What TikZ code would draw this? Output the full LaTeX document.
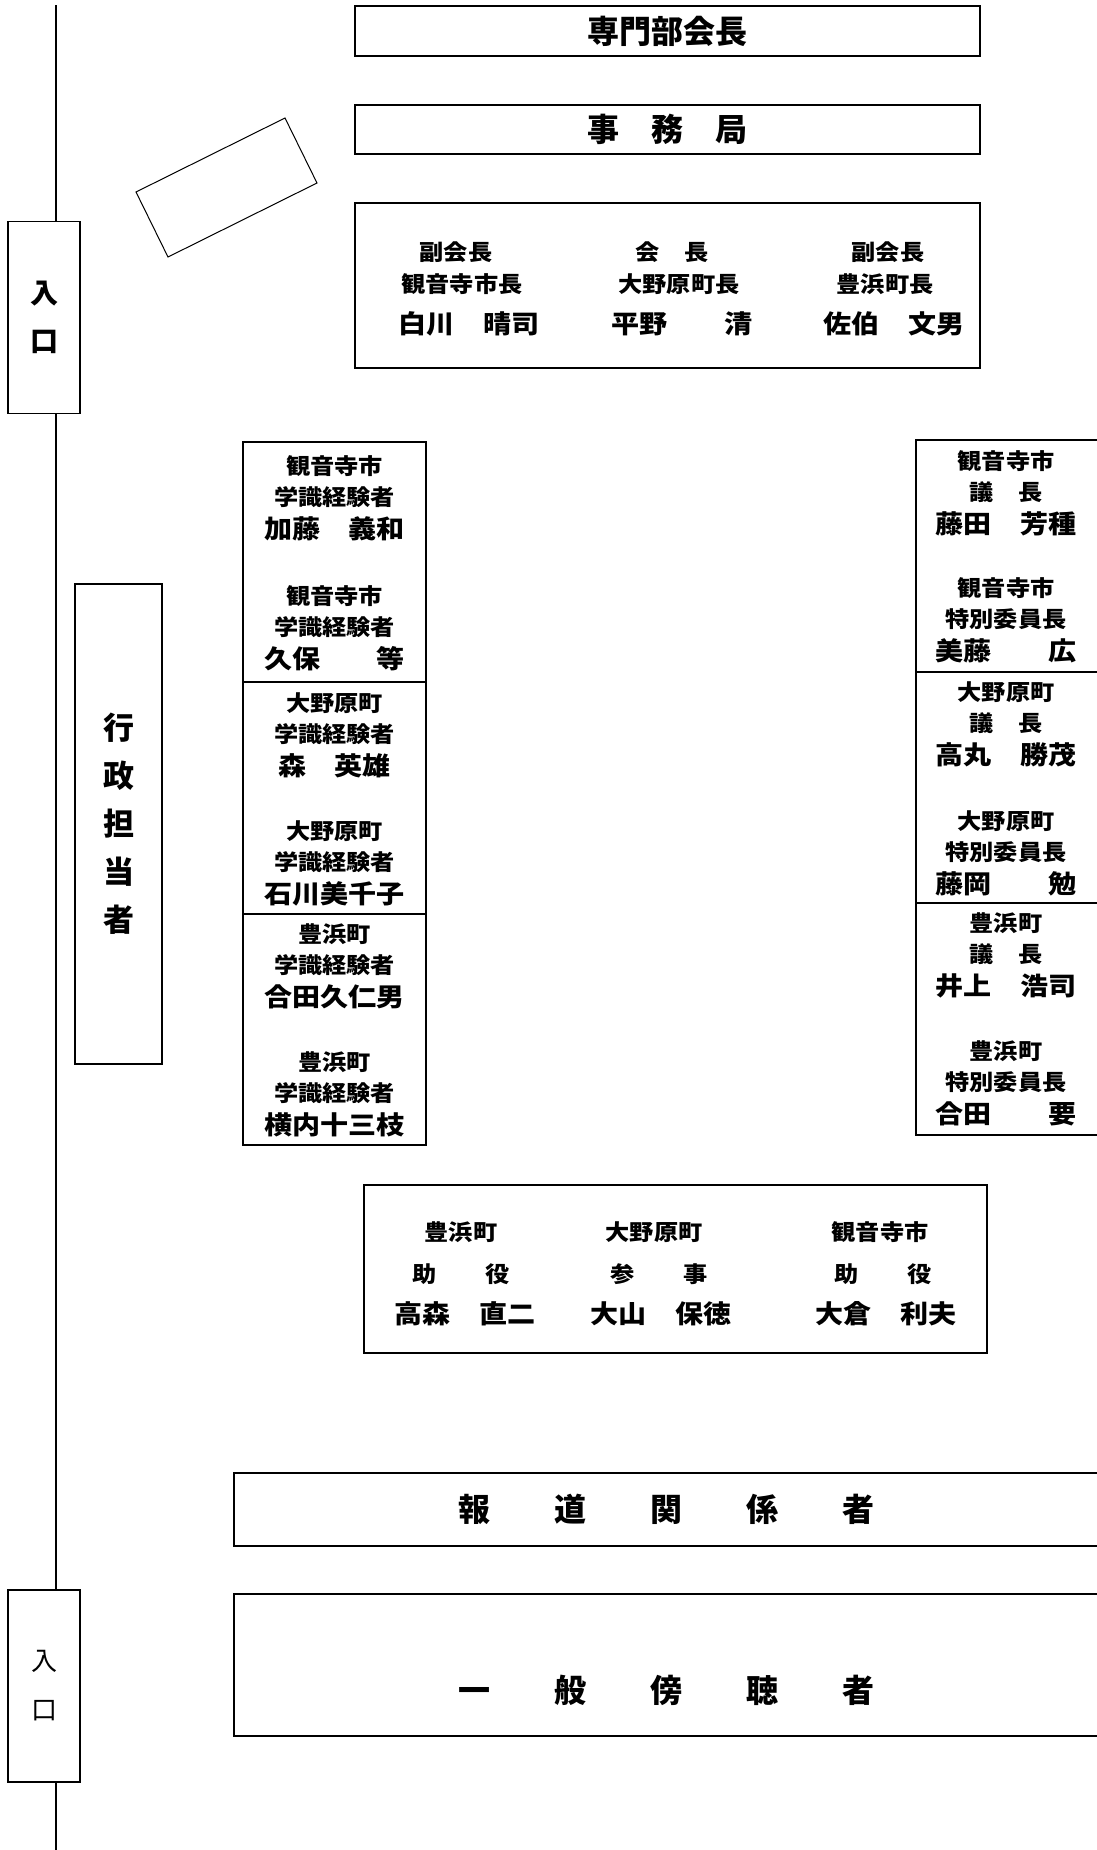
\documentclass[tikz,border=0pt]{standalone}
\usepackage{fontspec}
\newfontfamily\jpfont{Noto Sans CJK JP}
\newfontfamily\jpwide{Noto Sans CJK JP}[FakeStretch=1.1]
\usetikzlibrary{positioning}
\tikzset{
	seat/.style={line width=2pt},
	wall/.style={line width=1.3pt},
	lbl/.style={font=\jpwide\bfseries\fontsize{22}{22}\selectfont, inner sep=0pt, text height=18pt, text depth=3pt},
	nm/.style={font=\jpwide\bfseries\fontsize{25.5}{25.5}\selectfont, inner sep=0pt, text height=21pt, text depth=3.5pt},
	title/.style={font=\jpfont\bfseries\fontsize{32}{32}\selectfont, inner sep=0pt},
	door/.style={draw, wall, minimum width=72pt, minimum height=192pt, align=center, inner sep=0pt}
}

\begin{document}
\begin{tikzpicture}[x=1pt, y=-1pt, node distance=10pt and 0pt]
	\useasboundingbox (0,0) rectangle (1096,1850);

	% front tables
	\node (head) [draw, seat, title, minimum width=625pt, minimum height=50pt] at (667.5,31) {専門部会長};
	\node (jimu) [draw, seat, title, minimum width=625pt, minimum height=49pt] at (667.5,129.5) {事　務　局};
	\draw[line width=1pt] (136,192) -- (285,118) -- (317,183) -- (168,257) -- cycle;

	\draw[seat] (355,203) rectangle (980,368);
	\node (vc1a) [lbl] at (456,253) {副会長};
	\node (vc1b) [lbl] at (462,285) {観音寺市長};
	\node (vc1c) [nm] at (469,325) {白川　晴司};
	\node (ch1a) [lbl] at (672,253) {会　長};
	\node (ch1b) [lbl] at (679,285) {大野原町長};
	\node (ch1c) [nm] at (682,325) {平野　　清};
	\node (vc2a) [lbl] at (888,253) {副会長};
	\node (vc2b) [lbl] at (885,285) {豊浜町長};
	\node (vc2c) [nm] at (894,325) {佐伯　文男};

	% left column
	\draw[seat] (243,442) rectangle (426,1145);
	\draw[seat] (243,682) -- (426,682);
	\draw[seat] (243,914) -- (426,914);

	\node (kato1) [lbl] at (334.5,467) {観音寺市};
	\node (kato2) [lbl, below = of kato1] {学識経験者};
	\node (kato3) [nm, below = 8pt of kato2] {加藤　義和};
	\node (kubo1) [lbl] at (334.5,597) {観音寺市};
	\node (kubo2) [lbl, below = of kubo1] {学識経験者};
	\node (kubo3) [nm, below = 8pt of kubo2] {久保　　等};
	\node (mori1) [lbl] at (334.5,704) {大野原町};
	\node (mori2) [lbl, below = of mori1] {学識経験者};
	\node (mori3) [nm, below = 8pt of mori2] {森　英雄};
	\node (ishi1) [lbl] at (334.5,832) {大野原町};
	\node (ishi2) [lbl, below = of ishi1] {学識経験者};
	\node (ishi3) [nm, below = 8pt of ishi2] {石川美千子};
	\node (aida1) [lbl] at (334.5,935) {豊浜町};
	\node (aida2) [lbl, below = of aida1] {学識経験者};
	\node (aida3) [nm, below = 8pt of aida2] {合田久仁男};
	\node (yoko1) [lbl] at (334.5,1063) {豊浜町};
	\node (yoko2) [lbl, below = of yoko1] {学識経験者};
	\node (yoko3) [nm, below = 8pt of yoko2] {横内十三枝};

	% right column
	\draw[seat] (916,440) rectangle (1110,1135);
	\draw[seat] (916,672) -- (1110,672);
	\draw[seat] (916,903) -- (1110,903);

	\node (fuji1) [lbl] at (1006,462) {観音寺市};
	\node (fuji2) [lbl, below = of fuji1] {議　長};
	\node (fuji3) [nm, below = 8pt of fuji2] {藤田　芳種};
	\node (bito1) [lbl] at (1006,589) {観音寺市};
	\node (bito2) [lbl, below = of bito1] {特別委員長};
	\node (bito3) [nm, below = 8pt of bito2] {美藤　　広};
	\node (taka1) [lbl] at (1006,693) {大野原町};
	\node (taka2) [lbl, below = of taka1] {議　長};
	\node (taka3) [nm, below = 8pt of taka2] {高丸　勝茂};
	\node (fjok1) [lbl] at (1006,822) {大野原町};
	\node (fjok2) [lbl, below = of fjok1] {特別委員長};
	\node (fjok3) [nm, below = 8pt of fjok2] {藤岡　　勉};
	\node (inou1) [lbl] at (1006,924) {豊浜町};
	\node (inou2) [lbl, below = of inou1] {議　長};
	\node (inou3) [nm, below = 8pt of inou2] {井上　浩司};
	\node (kaname1) [lbl] at (1006,1052) {豊浜町};
	\node (kaname2) [lbl, below = of kaname1] {特別委員長};
	\node (kaname3) [nm, below = 8pt of kaname2] {合田　　要};

	% staff
	\node (gyosei) [draw, line width=1.5pt, minimum width=87pt, minimum height=480pt, align=center, inner sep=0pt,
		font=\jpfont\bfseries\fontsize{31}{48}\selectfont] at (118.5,824) {行\\政\\担\\当\\者};

	% officials
	\draw[seat] (364,1185) rectangle (987,1353);
	\node (toyo1) [lbl] at (461,1233) {豊浜町};
	\node (toyo2) [lbl] at (461,1275) {助　　役};
	\node (toyo3) [nm] at (465,1315) {高森　直二};
	\node (ono1) [lbl] at (654,1233) {大野原町};
	\node (ono2) [lbl] at (659,1275) {参　　事};
	\node (ono3) [nm] at (661,1315) {大山　保徳};
	\node (kan1) [lbl] at (880,1233) {観音寺市};
	\node (kan2) [lbl] at (883,1275) {助　　役};
	\node (kan3) [nm] at (886,1315) {大倉　利夫};

	% audience
	\draw[seat] (234,1473) rectangle (1110,1546);
	\node (press) [title] at (666,1509.5) {報　　道　　関　　係　　者};
	\draw[seat] (234,1594) rectangle (1110,1736);
	\node (public) [title] at (666,1690) {一　　般　　傍　　聴　　者};

	% entrances and wall
	\node (door1) [door, font=\jpfont\bfseries\fontsize{28}{48}\selectfont] at (44,317.5) {入\\口};
	\node (door2) [door, font=\jpfont\fontsize{26}{49}\selectfont] at (44,1686) {入\\口};
	\coordinate (walltop) at (56,5);
	\coordinate (wallend) at (56,1850);
	\draw[wall] (walltop) -- (walltop |- door1.north);
	\draw[wall] (walltop |- door1.south) -- (walltop |- door2.north);
	\draw[wall] (walltop |- door2.south) -- (wallend);

\end{tikzpicture}
\end{document}
